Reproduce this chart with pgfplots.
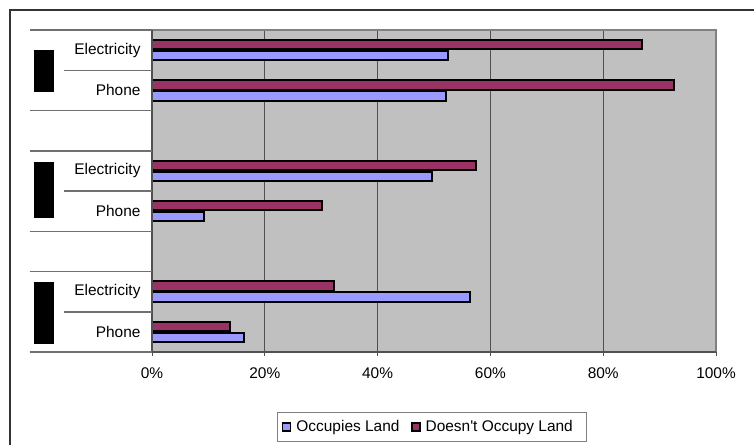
\documentclass[border=0pt]{standalone}
\usepackage{fontspec}
\setmainfont{Liberation Sans}
\usepackage{pgfplots}
\pgfplotsset{compat=1.18}
\definecolor{bgray}{HTML}{C0C0C0}
\definecolor{gridc}{HTML}{505050}
\definecolor{bordgray}{HTML}{808080}
\definecolor{sepc}{HTML}{707070}
\definecolor{occ}{HTML}{9999FF}
\definecolor{nocc}{HTML}{993366}
\begin{document}
\begin{tikzpicture}
\useasboundingbox (0,0) rectangle (754bp,-445bp);
\draw[line width=1.5bp, color=darkgray!80!black] (10bp,-445bp) -- (10bp,-10bp) -- (754bp,-10bp);
% redaction blocks
\fill[black] (34bp,-50bp) rectangle (54bp,-92bp);
\fill[black] (34bp,-162bp) rectangle (54bp,-218bp);
\fill[black] (34bp,-282bp) rectangle (54bp,-344bp);
\begin{axis}[
  at={(152bp,-352bp)}, anchor=south west,
  scale only axis, width=564bp, height=322bp,
  clip=false,
  xbar, bar width=9.5bp,
  xmin=0, xmax=100, ymin=0.5, ymax=8.5,
  axis background/.style={fill=bgray},
  axis line style={draw=none},
  xtick={0,20,40,60,80,100},
  xticklabels={0\%,20\%,40\%,60\%,80\%,100\%},
  xmajorgrids, grid style={line width=1bp, color=gridc},
  xtick pos=bottom, tick align=outside, major tick length=4bp,
  x tick style={line width=1bp, color=gridc},
  ytick={1,2,4,5,7,8},
  yticklabels={Phone,Electricity,Phone,Electricity,Phone,Electricity},
  y tick style={draw=none},
  tick label style={font=\fontsize{15.5}{18}\selectfont},
  xticklabel style={yshift=-8bp},
  yticklabel style={xshift=-4bp},
  /pgf/number format/assume math mode=true,
  legend style={at={(0.4965,-0.233)}, anchor=center, legend columns=2,
    draw=bordgray, line width=1bp, font=\fontsize{15.5}{18}\selectfont,
    inner xsep=5bp, inner ysep=6bp,
    /tikz/every even column/.append style={column sep=10bp}},
  legend image code/.code={\draw[#1,draw=black,line width=1.2bp] (0bp,-4bp) rectangle (8bp,4bp);},
]
\addplot[fill=occ, draw=black, line width=1.8bp, bar shift=-5.5bp] coordinates {
  (52.5,8) (52.1,7) (49.6,5) (9.2,4) (56.4,2) (16.3,1)};
\addlegendentry{\hspace{3bp}Occupies Land}
\addplot[fill=nocc, draw=black, line width=1.8bp, bar shift=5.5bp] coordinates {
  (86.9,8) (92.6,7) (57.4,5) (30.2,4) (32.3,2) (13.8,1)};
\addlegendentry{\hspace{3bp}Doesn\textquotesingle t Occupy Land\kern7bp}
\draw[bordgray, line width=1.5bp] (rel axis cs:0,1) -- (rel axis cs:1,1) -- (rel axis cs:1,0);
\draw[gridc, line width=1.5bp] (rel axis cs:0,1) -- (rel axis cs:0,0) -- (rel axis cs:1,0);
\draw[sepc, line width=1.5bp] ([xshift=-122bp]axis cs:0,0.5) -- (axis cs:0,0.5);
\draw[sepc, line width=1.5bp] ([xshift=-122bp]axis cs:0,2.5) -- (axis cs:0,2.5);
\draw[sepc, line width=1.5bp] ([xshift=-122bp]axis cs:0,3.5) -- (axis cs:0,3.5);
\draw[sepc, line width=1.5bp] ([xshift=-122bp]axis cs:0,5.5) -- (axis cs:0,5.5);
\draw[sepc, line width=1.5bp] ([xshift=-122bp]axis cs:0,6.5) -- (axis cs:0,6.5);
\draw[sepc, line width=1.5bp] ([xshift=-122bp]axis cs:0,8.5) -- (axis cs:0,8.5);
\draw[sepc, line width=1.5bp] ([xshift=-88bp]axis cs:0,1.5) -- (axis cs:0,1.5);
\draw[sepc, line width=1.5bp] ([xshift=-88bp]axis cs:0,4.5) -- (axis cs:0,4.5);
\draw[sepc, line width=1.5bp] ([xshift=-88bp]axis cs:0,7.5) -- (axis cs:0,7.5);
\end{axis}
\end{tikzpicture}
\end{document}
